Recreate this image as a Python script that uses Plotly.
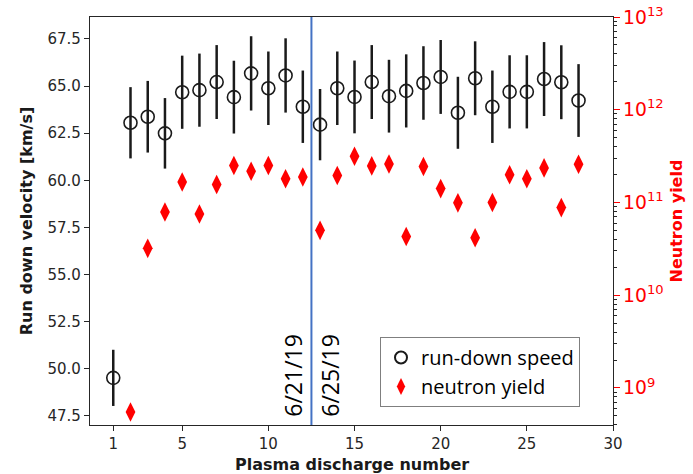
import plotly.graph_objects as go

shot_speed = list(range(1, 29))
speed = [49.52, 63.05, 63.37, 62.49, 64.67, 64.78, 65.21, 64.41, 65.67, 64.88,
         65.56, 63.90, 62.95, 64.88, 64.42, 65.21, 64.46, 64.74, 65.16, 65.48,
         63.58, 65.41, 63.90, 64.69, 64.69, 65.37, 65.20, 64.23]
speed_err = [1.49, 1.89, 1.90, 1.87, 1.94, 1.94, 1.96, 1.93, 1.97, 1.95,
             1.97, 1.92, 1.89, 1.95, 1.93, 1.96, 1.93, 1.94, 1.95, 1.96,
             1.91, 1.96, 1.92, 1.94, 1.94, 1.96, 1.96, 1.93]

shot_yield = list(range(2, 29))
neutron_yield = [5.5e8, 3.2e10, 7.9e10, 1.66e11, 7.5e10, 1.56e11, 2.5e11, 2.17e11, 2.5e11,
                 1.8e11, 1.88e11, 5.0e10, 1.95e11, 3.15e11, 2.48e11, 2.6e11, 4.3e10,
                 2.44e11, 1.41e11, 9.9e10, 4.17e10, 1.0e11, 1.99e11, 1.8e11, 2.36e11,
                 8.8e10, 2.58e11]

x_ticks = [1, 5, 10, 15, 20, 25, 30]
y_ticks = [47.5, 50.0, 52.5, 55.0, 57.5, 60.0, 62.5, 65.0, 67.5]
date_split = 12.5
date_labels = ["6/21/19", "6/25/19"]

# minor tick positions for the log axis (2..9 x 10^n)
minor_log_ticks = [m * 10.0 ** e for e in range(8, 13) for m in range(2, 10)]

fig = go.Figure()
fig.add_trace(go.Scatter(
    x=shot_speed, y=speed, mode="markers", name="run-down speed",
    marker=dict(symbol="circle-open", size=13, color="#1a1a1a", line=dict(width=1.6, color="#1a1a1a")),
    error_y=dict(type="data", array=speed_err, visible=True, color="#1a1a1a", thickness=2.5, width=0),
))
fig.add_trace(go.Scatter(
    x=shot_yield, y=neutron_yield, mode="markers", name="neutron yield", yaxis="y2",
    marker=dict(symbol="diamond-tall", size=14, color="#ff0000", line=dict(width=0)),
))
# invisible trace to carry the minor-tick axis
fig.add_trace(go.Scatter(x=[None], y=[None], yaxis="y3", showlegend=False, hoverinfo="skip"))

fig.add_shape(type="line", xref="x", yref="paper", x0=date_split, x1=date_split, y0=0, y1=1,
              line=dict(color="#4472c4", width=2))

date_font = dict(family="Open Sans", size=23, color="black")
fig.add_annotation(x=date_split, y=47.35, xref="x", yref="y", text=date_labels[0], textangle=-90,
                   showarrow=False, xanchor="center", yanchor="bottom", xshift=-18,
                   font=date_font)
fig.add_annotation(x=date_split, y=47.35, xref="x", yref="y", text=date_labels[1], textangle=-90,
                   showarrow=False, xanchor="center", yanchor="bottom", xshift=19,
                   font=date_font)

# x-axis title placed as paper annotation below the tick labels
fig.add_annotation(x=0.5, y=0, xref="paper", yref="paper", text="<b>Plasma discharge number</b>",
                   showarrow=False, xanchor="center", yanchor="top", yshift=-28,
                   font=dict(family="DejaVu Sans", size=16, color="#1a1a1a"))

tick_font = dict(family="DejaVu Sans", size=15, color="#262626")
fig.update_layout(
    width=693, height=474,
    margin=dict(l=90, r=80, t=17, b=49, autoexpand=False),
    plot_bgcolor="white", paper_bgcolor="white",
    showlegend=True,
    legend=dict(x=0.5545, y=0.2157, xanchor="left", yanchor="top",
                bordercolor="#7f7f7f", borderwidth=1, bgcolor="white",
                font=dict(family="Open Sans", size=20, color="black"),
                itemsizing="constant", tracegroupgap=0),
    xaxis=dict(range=[-0.35, 30], tickvals=x_ticks, ticks="outside", ticklen=5,
               tickcolor="#262626", showline=True, linecolor="#262626", linewidth=1.2,
               mirror=True, showgrid=False, zeroline=False, tickfont=tick_font,
               automargin=False),
    yaxis=dict(range=[47.02, 68.66], tickvals=y_ticks, tickformat=".1f", ticks="outside",
               ticklen=5, tickcolor="#262626", showline=True, linecolor="#262626",
               linewidth=1.2, showgrid=False, zeroline=False, tickfont=tick_font,
               automargin=False,
               title=dict(text="<b>Run down velocity [km/s]</b>", standoff=10,
                          font=dict(family="DejaVu Sans", size=16, color="#1a1a1a"))),
    yaxis2=dict(type="log", range=[8.6, 13], overlaying="y", side="right", dtick=1,
                exponentformat="power", showexponent="all", ticks="outside", ticklen=6,
                tickwidth=1.2, tickcolor="#ff0000", showline=True, linecolor="#262626",
                linewidth=1.2, showgrid=False, zeroline=False, automargin=False,
                tickfont=dict(family="DejaVu Sans", size=15, color="#ff0000"),
                title=dict(text="<b>Neutron yield</b>", standoff=8,
                           font=dict(family="DejaVu Sans", size=16, color="#ff0000"))),
    yaxis3=dict(type="log", range=[8.6, 13], overlaying="y", side="right",
                tickmode="array", tickvals=minor_log_ticks, ticks="outside", ticklen=3,
                tickwidth=1, tickcolor="#262626", showticklabels=False, showline=False,
                showgrid=False, zeroline=False, automargin=False),
)

fig.write_html("out.html")
